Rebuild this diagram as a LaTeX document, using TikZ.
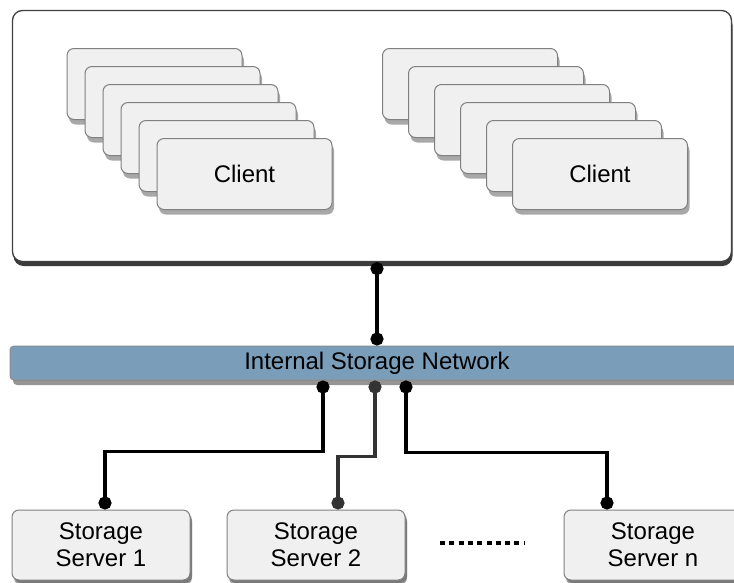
\documentclass[tikz,border=0pt]{standalone}
\usepackage{fontspec}
\setmainfont{Liberation Sans}
\usetikzlibrary{arrows.meta, shadows}

\definecolor{netblue}{HTML}{7A9DBA}

\begin{document}
\begin{tikzpicture}[x=1pt,y=-1pt,
 frame node/.style={rectangle,rounded corners=10pt,draw=black!75,line width=1.3pt,fill=white,
   minimum width=719pt,minimum height=251pt,
   drop shadow={shadow xshift=1pt,shadow yshift=-4.5pt,opacity=.9,fill=black!85}},
 card node/.style={rectangle,rounded corners=7pt,draw=black!50,line width=1pt,fill=black!6,
   minimum width=175pt,minimum height=71pt,font=\fontsize{24}{27}\selectfont,
   drop shadow={shadow xshift=2pt,shadow yshift=-5pt,opacity=.45,fill=black!75}},
 server node/.style={card node,minimum width=178pt,minimum height=70pt,align=center,
   drop shadow={shadow xshift=2pt,shadow yshift=-3pt,opacity=.5,fill=black!70}},
 net node/.style={rectangle,rounded corners=4pt,draw=black!45,line width=1pt,fill=netblue,
   minimum width=734pt,minimum height=34pt,font=\fontsize{24}{27}\selectfont,
   drop shadow={shadow xshift=3pt,shadow yshift=-5pt,opacity=.6,fill=black!70}},
 conn/.style={line width=3.6pt,{Circle[length=13pt]}-{Circle[length=13pt]},line join=miter}]
\useasboundingbox (0,0) rectangle (734,582);
\clip (0,0) rectangle (734,582);

% clients
\node[frame node](F) at (372,136){};
\foreach \k in {5,...,1}{
    \node[card node](A\k) at (244.5-18*\k,174-18*\k){};}
\node[card node](A) at (244.5,174){Client};
\foreach \k in {5,...,1}{
    \node[card node](B\k) at (600-26*\k,174-18*\k){};}
\node[card node](B) at (600,174){Client};

% network and servers
\node[net node](N) at (377,363){Internal Storage Network};
\node[server node](S1) at (101,545){Storage\\Server 1};
\node[server node](S2) at (316,545){Storage\\Server 2};
\node[server node](Sn) at (653,545){Storage\\Server n};
\coordinate (D1) at (440,543);
\coordinate (D2) at (524,543);

\draw[conn] ([xshift=5pt]F.south) -- (N.north);
\draw[conn] ([xshift=-54pt]N.south) -- ++(0,71) -| ([xshift=4pt]S1.north);
\draw[conn,black!80] ([xshift=-2pt]N.south) -- ++(0,76) -| ([xshift=22pt]S2.north);
\draw[conn] ([xshift=29pt]N.south) -- ++(0,72) -| ([xshift=-46pt]Sn.north);
\draw[line width=3.5pt,dash pattern=on 5pt off 4.3pt] (D1) -- (D2);
\end{tikzpicture}
\end{document}
